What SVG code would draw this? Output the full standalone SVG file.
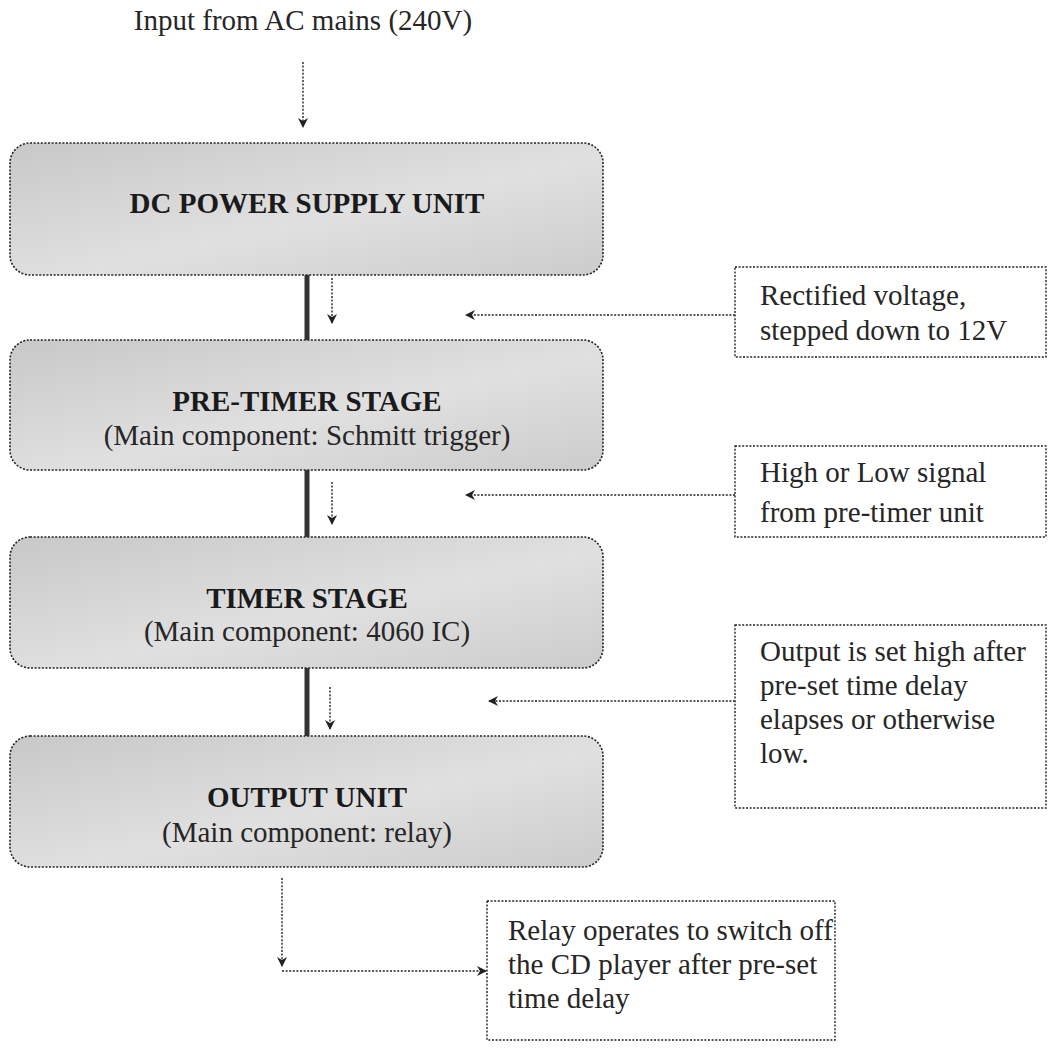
<svg xmlns="http://www.w3.org/2000/svg" width="1048" height="1058" viewBox="0 0 1048 1058">
<defs>
<style>
text{font-family:"Liberation Serif","Times New Roman",serif;fill:#262626}
.t{font-size:29px}
.b{font-size:29px;font-weight:bold;text-anchor:middle;fill:#1a1a1a}
.s{font-size:29px;text-anchor:middle}
.node{fill:url(#gr);stroke:#222;stroke-width:1.6;stroke-dasharray:2 1.6}
.note{fill:#fff;stroke:#222;stroke-width:1.4;stroke-dasharray:2 1.6}
.thick{stroke:#333;stroke-width:5;fill:none}
.dot{stroke:#222;stroke-width:1.4;stroke-dasharray:2 1.6;fill:none}
</style>
<linearGradient id="gr" x1="0" y1="0" x2="1" y2="1">
<stop offset="0" stop-color="#c8c8c8"/>
<stop offset="0.55" stop-color="#e0e0e0"/>
<stop offset="1" stop-color="#cccccc"/>
</linearGradient>
<marker id="ah" viewBox="0 0 10 10" refX="9" refY="5" markerWidth="10" markerHeight="10" markerUnits="userSpaceOnUse" orient="auto">
<path d="M0,0 L10,5 L0,10 L3,5 Z" fill="#222"/>
</marker>
</defs>

<text id="input-label" class="s" x="303" y="30">Input from AC mains (240V)</text>

<g id="dc-power-supply-unit">
<rect class="node" x="10" y="143" width="593" height="132" rx="20"/>
<text class="b" x="307" y="213">DC POWER SUPPLY UNIT</text>
</g>
<g id="pre-timer-stage">
<rect class="node" x="10" y="340" width="593" height="130" rx="20"/>
<text class="b" x="307" y="411">PRE-TIMER STAGE</text>
<text class="s" x="307" y="445">(Main component: Schmitt trigger)</text>
</g>
<g id="timer-stage">
<rect class="node" x="10" y="537" width="593" height="131" rx="20"/>
<text class="b" x="307" y="608">TIMER STAGE</text>
<text class="s" x="307" y="641">(Main component: 4060 IC)</text>
</g>
<g id="output-unit">
<rect class="node" x="10" y="736" width="593" height="131" rx="20"/>
<text class="b" x="307" y="807">OUTPUT UNIT</text>
<text class="s" x="307" y="842">(Main component: relay)</text>
</g>

<g id="note-rectified">
<rect class="note" x="735" y="267" width="311" height="90"/>
<text class="t" x="760" y="305">Rectified voltage,</text>
<text class="t" x="760" y="340">stepped down to 12V</text>
</g>
<g id="note-high-low">
<rect class="note" x="735" y="446" width="311" height="91"/>
<text class="t" x="760" y="482">High or Low signal</text>
<text class="t" x="760" y="522">from pre-timer unit</text>
</g>
<g id="note-output">
<rect class="note" x="735" y="625" width="311" height="183"/>
<text class="t" x="760" y="661">Output is set high after</text>
<text class="t" x="760" y="695">pre-set time delay</text>
<text class="t" x="760" y="729">elapses or otherwise</text>
<text class="t" x="760" y="763">low.</text>
</g>
<g id="note-relay">
<rect class="note" x="487" y="901" width="348" height="139"/>
<text class="t" x="508" y="940">Relay operates to switch off</text>
<text class="t" x="508" y="974">the CD player after pre-set</text>
<text class="t" x="508" y="1008">time delay</text>
</g>

<g id="connectors">
<line class="dot" x1="303" y1="62" x2="303" y2="127" marker-end="url(#ah)"/>
<line class="thick" x1="307" y1="275" x2="307" y2="340"/>
<line class="thick" x1="307" y1="470" x2="307" y2="537"/>
<line class="thick" x1="307" y1="668" x2="307" y2="736"/>
<line class="dot" x1="332" y1="278" x2="332" y2="323" marker-end="url(#ah)"/>
<line class="dot" x1="332" y1="482" x2="332" y2="524" marker-end="url(#ah)"/>
<line class="dot" x1="330" y1="687" x2="330" y2="729" marker-end="url(#ah)"/>
<line class="dot" x1="735" y1="315" x2="466" y2="315" marker-end="url(#ah)"/>
<line class="dot" x1="735" y1="495" x2="466" y2="495" marker-end="url(#ah)"/>
<line class="dot" x1="735" y1="701" x2="489" y2="701" marker-end="url(#ah)"/>
<line class="dot" x1="282" y1="878" x2="282" y2="966" marker-end="url(#ah)"/>
<line class="dot" x1="282" y1="971" x2="486" y2="971" marker-end="url(#ah)"/>
</g>
</svg>
